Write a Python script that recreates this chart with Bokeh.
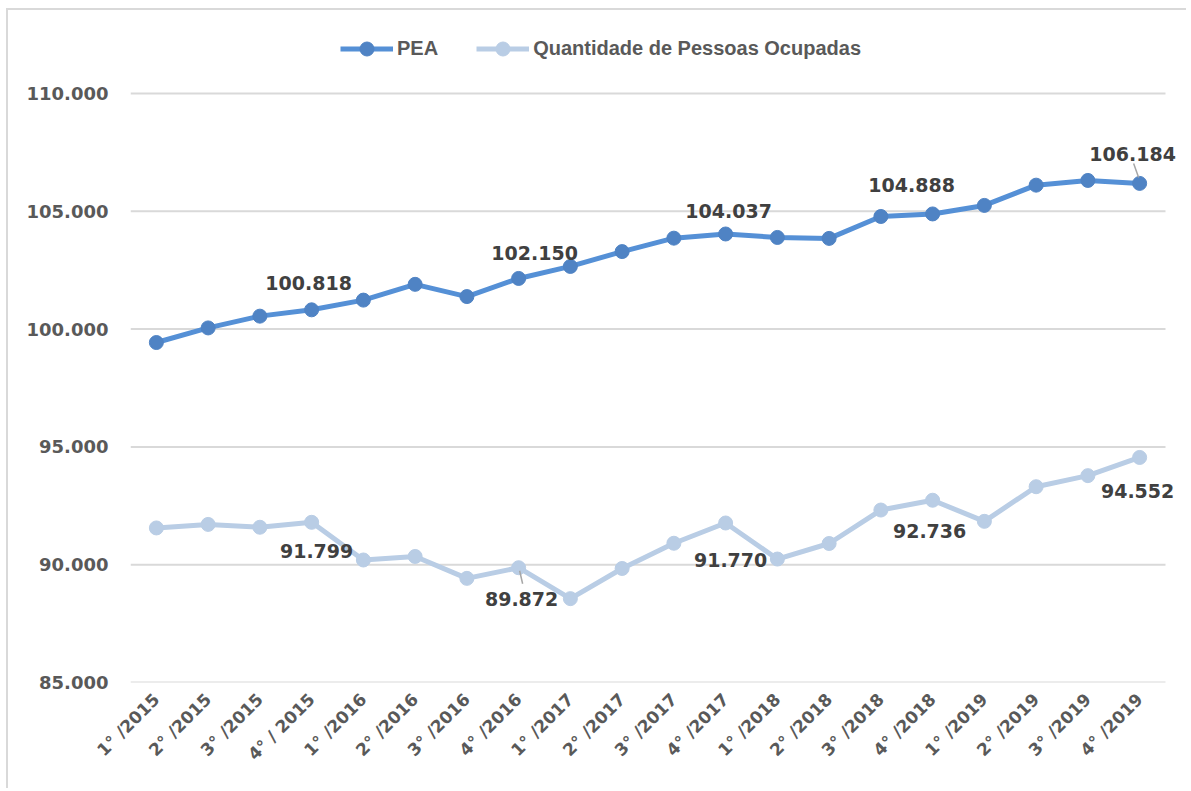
import math
from bokeh.plotting import figure
from bokeh.models import FixedTicker, Legend, LegendItem, Range1d
from bokeh.embed import file_html
from bokeh.resources import INLINE
from bokeh.core.properties import value

quarters = ["1° /2015", "2° /2015", "3° /2015", "4° / 2015",
            "1° /2016", "2° /2016", "3° /2016", "4° /2016",
            "1° /2017", "2° /2017", "3° /2017", "4° /2017",
            "1° /2018", "2° /2018", "3° /2018", "4° /2018",
            "1° /2019", "2° /2019", "3° /2019", "4° /2019"]
pea = [99430, 100050, 100550, 100818, 101230, 101900, 101380, 102150,
       102660, 103290, 103860, 104037, 103890, 103850, 104780, 104888,
       105250, 106110, 106310, 106184]
ocupadas = [91560, 91710, 91590, 91799, 90200, 90350, 89420, 89872,
            88560, 89840, 90910, 91770, 90240, 90900, 92320, 92736,
            91840, 93310, 93780, 94552]
y_ticks = [85000, 90000, 95000, 100000, 105000, 110000]
y_tick_labels = ["85.000", "90.000", "95.000", "100.000", "105.000", "110.000"]
labeled_idx = [3, 7, 11, 15, 19]

# layout / style constants
FIG_W, FIG_H = 1180, 780
BORDER_L, BORDER_B = 122, 108
PLOT_W_PX, PLOT_H_PX = 1035, 589          # pixel size of the 20-category x 25000 plot area
FRAME_W = FIG_W - BORDER_L
FRAME_H = FIG_H - BORDER_B
Y0, Y1 = 85000, 110000
PEA_LINE, PEA_MARK = "#5590d6", "#4f83c4"
OC_LINE, OC_MARK = "#b9cde5", "#b9cde5"
NUM_FONT = "DejaVu Sans"
pea_offsets = [(-3, -27), (16, -25), (3, -23), (-21, -29), (-7, -29)]
oc_offsets = [(5, 29), (3, 31), (5, 37), (-3, 31), (-2, 34)]
LEG_GLYPH_H = 35

n = len(quarters)
xs = [i + 0.5 for i in range(n)]
x_per_px = n / PLOT_W_PX
y_per_px = (Y1 - Y0) / PLOT_H_PX

p = figure(width=FIG_W, height=FIG_H,
           x_range=Range1d(0, FRAME_W * x_per_px),
           y_range=Range1d(Y0, Y0 + FRAME_H * y_per_px),
           output_backend="svg", toolbar_location=None,
           min_border_left=BORDER_L, min_border_right=0, min_border_top=0,
           min_border_bottom=BORDER_B)
p.styles = {"border-left": "2px solid #d9d9d9", "border-top": "2px solid #d9d9d9",
            "margin-left": "6px", "margin-top": "8px"}
p.outline_line_color = None
p.background_fill_color = "white"
p.border_fill_color = "white"
p.xgrid.visible = False
p.ygrid.visible = False

# horizontal gridlines across the category area
p.segment(x0=[0] * len(y_ticks), x1=[n] * len(y_ticks), y0=y_ticks, y1=y_ticks,
          line_color="#d9d9d9", line_width=2)

p.yaxis.ticker = FixedTicker(ticks=y_ticks)
p.yaxis.major_label_overrides = {t: l for t, l in zip(y_ticks, y_tick_labels)}
p.xaxis.ticker = FixedTicker(ticks=xs)
p.xaxis.major_label_overrides = {x: q for x, q in zip(xs, quarters)}
p.xaxis.major_label_orientation = math.pi / 4
for ax in (p.xaxis, p.yaxis):
    ax.axis_line_color = None
    ax.major_tick_line_color = None
    ax.minor_tick_line_color = None
    ax.major_label_text_font = NUM_FONT
    ax.major_label_text_font_style = "bold"
    ax.major_label_text_color = "#595959"
p.yaxis.major_label_text_font_size = "18px"
p.yaxis.major_label_standoff = 16
p.xaxis.major_label_text_font_size = "17px"
p.xaxis.major_label_standoff = 8

l1 = p.line(xs, pea, line_width=5, color=PEA_LINE)
s1 = p.scatter(xs, pea, size=14, color=PEA_MARK)
l2 = p.line(xs, ocupadas, line_width=5, color=OC_LINE)
s2 = p.scatter(xs, ocupadas, size=14, color=OC_MARK)

def add_labels(series, offsets):
    tx, ty, tt = [], [], []
    for (dx, dy), i in zip(offsets, labeled_idx):
        tx.append(xs[i] + dx * x_per_px)
        ty.append(series[i] - dy * y_per_px)
        tt.append(f"{series[i]:,}".replace(",", "."))
    p.text(tx, ty, text=tt, text_align="center", text_baseline="middle",
           text_font=value(NUM_FONT), text_font_style="bold",
           text_font_size="19px", text_color="#404040")

add_labels(pea, pea_offsets)
add_labels(ocupadas, oc_offsets)

# leader lines (pixel offsets from the point)
leaders = [(pea, 19, (-6, -20), (-1, -6)), (ocupadas, 7, (1, 3), (4, 16))]
for series, i, a, b in leaders:
    p.segment(x0=[xs[i] + a[0] * x_per_px], y0=[series[i] - a[1] * y_per_px],
              x1=[xs[i] + b[0] * x_per_px], y1=[series[i] - b[1] * y_per_px],
              line_color="#a6a6a6", line_width=1.5)

# legend centred ~38px below the frame top; location is its bottom-left corner
legend = Legend(items=[LegendItem(label="PEA", renderers=[l1, s1]),
                       LegendItem(label="Quantidade de Pessoas Ocupadas", renderers=[l2, s2])],
                orientation="horizontal",
                location=(210, FRAME_H - 38 - LEG_GLYPH_H / 2),
                glyph_width=53, glyph_height=LEG_GLYPH_H, label_height=20, label_standoff=4,
                spacing=38, padding=0, margin=0,
                label_text_font="Liberation Sans", label_text_font_style="bold",
                label_text_font_size="20px", label_text_color="#595959",
                border_line_alpha=0, background_fill_alpha=0)
p.add_layout(legend)

open("out.html", "w").write(file_html(p, INLINE))
